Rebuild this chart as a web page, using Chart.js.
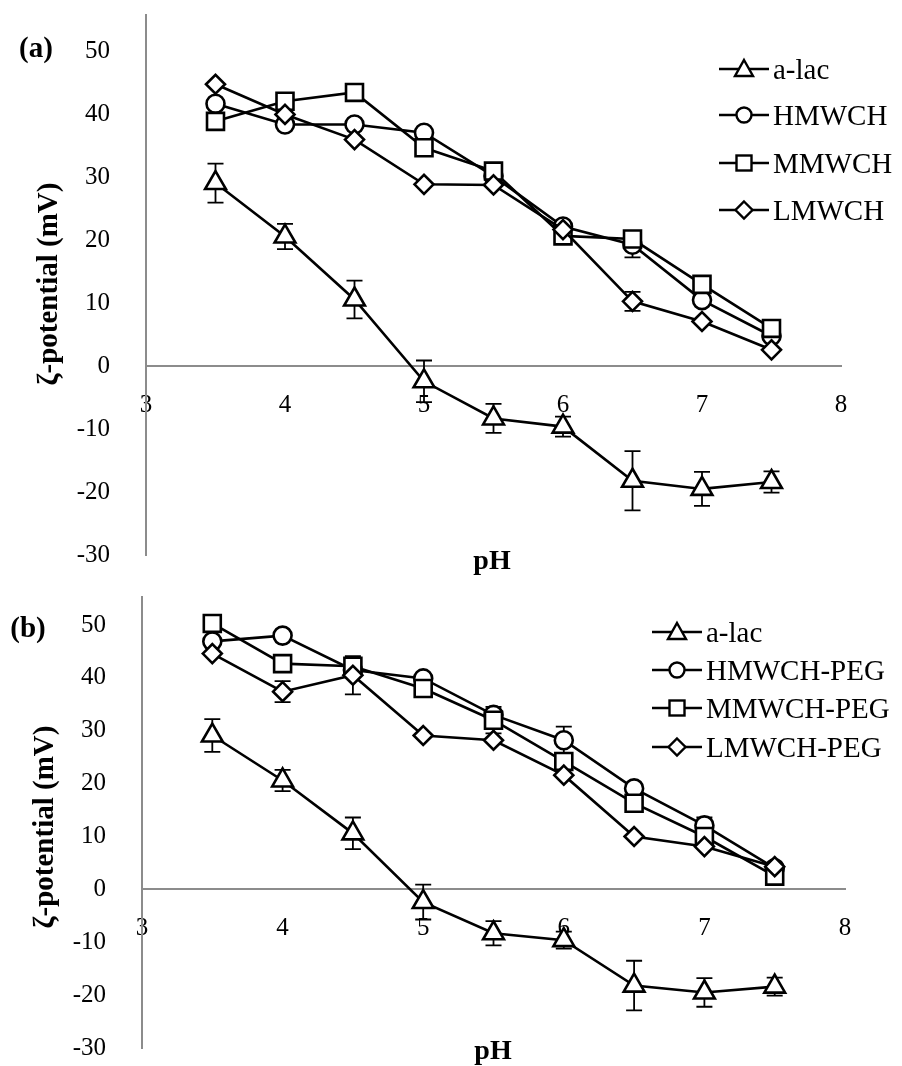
<!DOCTYPE html>
<html><head><meta charset="utf-8">
<script src="https://cdn.jsdelivr.net/npm/chart.js@4.4.0/dist/chart.umd.min.js"></script>
<style>
html,body{margin:0;padding:0;background:#fff;}
body{width:902px;height:1066px;position:relative;overflow:hidden;font-family:"Liberation Serif","Times New Roman",serif;color:#000;}
.wrap{position:absolute;left:0;}
.lbl{position:absolute;font-weight:bold;font-size:29px;white-space:nowrap;transform:translate(-50%,-50%);line-height:1;}
.ytitle{transform:translate(-50%,-50%) rotate(-90deg);}
.leg{position:absolute;height:30px;font-size:29px;white-space:nowrap;line-height:1;display:flex;align-items:center;}
.leg svg{margin-right:4px;flex:none;}
</style></head><body>
<div class="wrap" style="top:0;width:902px;height:580px"><canvas id="chartA" width="902" height="580"></canvas></div>
<div class="wrap" style="top:570px;width:902px;height:496px"><canvas id="chartB" width="902" height="496"></canvas></div>

<div class="lbl" style="left:36px;top:47px">(a)</div>
<div class="lbl" style="left:28px;top:627px">(b)</div>
<div class="lbl ytitle" style="left:47px;top:284px">ζ-potential (mV)</div>
<div class="lbl ytitle" style="left:43px;top:827px">ζ-potential (mV)</div>
<div class="lbl" style="left:492px;top:560px;font-size:28px">pH</div>
<div class="lbl" style="left:493px;top:1050px;font-size:28px">pH</div>
<div id="legA"></div>
<div id="legB"></div>

<script>
// ---- data ----
const pH = [3.5, 4, 4.5, 5, 5.5, 6, 6.5, 7, 7.5];
const xTicks = [3, 4, 5, 6, 7, 8];
const yTicks = [-30, -20, -10, 0, 10, 20, 30, 40, 50];

const aLac    = [29.1, 20.6, 10.6, -2.4, -8.3, -9.6, -18.2, -19.5, -18.4];
const aLacErr = [3.1, 2.0, 3.0, 3.3, 2.3, 1.6, 4.7, 2.7, 1.7];

const hmwch    = [41.7, 38.4, 38.4, 37.1, 30.2, 22.2, 19.3, 10.5, 4.8];
const hmwchErr = [0, 0, 0, 0, 0, 0, 2.0, 0, 0];
const mmwch    = [38.9, 42.1, 43.5, 34.7, 31.0, 20.7, 20.2, 13.0, 6.0];
const mmwchErr = [0, 0, 0, 0, 0, 0, 0, 0, 0];
const lmwch    = [44.8, 40.0, 36.0, 28.9, 28.8, 21.7, 10.3, 7.1, 2.6];
const lmwchErr = [0, 0, 0, 0, 0, 0, 1.5, 0, 0];

const hmwchPeg    = [46.9, 48.0, 41.5, 39.9, 33.0, 28.2, 19.1, 12.1, 4.0];
const hmwchPegErr = [0, 0, 0, 0, 0, 2.6, 0, 1.5, 0];
const mmwchPeg    = [50.3, 42.7, 42.2, 38.0, 32.0, 24.2, 16.3, 10.0, 2.5];
const mmwchPegErr = [0, 0, 0, 0, 2.5, 0, 0, 0, 0];
const lmwchPeg    = [44.6, 37.4, 40.5, 29.1, 28.2, 21.6, 10.0, 8.1, 4.3];
const lmwchPegErr = [0, 2.0, 3.6, 0, 0, 0, 0, 0, 0];

const labelsA = ['a-lac', 'HMWCH', 'MMWCH', 'LMWCH'];
const labelsB = ['a-lac', 'HMWCH-PEG', 'MMWCH-PEG', 'LMWCH-PEG'];
const markers = ['triangle', 'circle', 'rect', 'rectRot'];
const radii = [12, 9, 12, 9.5];

// ---- helpers ----
function pts(vals) { return vals.map((v, i) => ({x: pH[i], y: v})); }

const errorBarPlugin = {
  id: 'errorBars',
  beforeDatasetsDraw(chart) {
    const ctx = chart.ctx, ys = chart.scales.y, xs = chart.scales.x;
    ctx.save();
    ctx.strokeStyle = '#000';
    ctx.lineWidth = 1.8;
    chart.data.datasets.forEach(ds => {
      const errs = ds.errorBars || [];
      ds.data.forEach((p, i) => {
        const e = errs[i];
        if (!e) return;
        const x = xs.getPixelForValue(p.x);
        const y1 = ys.getPixelForValue(p.y + e);
        const y2 = ys.getPixelForValue(p.y - e);
        ctx.beginPath();
        ctx.moveTo(x, y1); ctx.lineTo(x, y2);
        ctx.moveTo(x - 8, y1); ctx.lineTo(x + 8, y1);
        ctx.moveTo(x - 8, y2); ctx.lineTo(x + 8, y2);
        ctx.stroke();
      });
    });
    ctx.restore();
  }
};

function makeDatasets(labels, series, errs) {
  return series.map((vals, k) => ({
    label: labels[k],
    data: pts(vals),
    errorBars: errs[k],
    borderColor: '#000',
    borderWidth: 2.6,
    backgroundColor: '#fff',
    pointStyle: markers[k],
    pointRadius: radii[k],
    pointBorderWidth: 2.6,
    pointBackgroundColor: '#fff',
    pointBorderColor: '#000',
    tension: 0,
    order: k === 0 ? 4 : 4 - k
  }));
}

function makeChart(id, datasets, yMax, yWidth, pad) {
  const tickFont = {family: 'Liberation Serif', size: 25};
  return new Chart(document.getElementById(id), {
    type: 'line',
    data: {datasets},
    plugins: [errorBarPlugin],
    options: {
      responsive: false,
      animation: false,
      layout: {padding: pad},
      plugins: {legend: {display: false}, tooltip: {enabled: false}},
      scales: {
        x: {
          type: 'linear', min: 3, max: 8, position: {y: 0},
          afterBuildTicks: s => { s.ticks = xTicks.map(v => ({value: v})); },
          afterFit: s => { s.height = 0; s.paddingLeft = 0; s.paddingRight = 0; },
          grid: {drawOnChartArea: false, drawTicks: false},
          border: {color: '#8c8c8c', width: 2},
          ticks: {padding: 24, color: '#000', font: tickFont, maxRotation: 0, autoSkip: false}
        },
        y: {
          type: 'linear', min: -30, max: yMax,
          afterBuildTicks: s => { s.ticks = yTicks.map(v => ({value: v})); },
          afterFit: s => { s.width = yWidth; s.paddingTop = 0; s.paddingBottom = 0; },
          grid: {drawOnChartArea: false, drawTicks: false},
          border: {color: '#8c8c8c', width: 2},
          ticks: {padding: 36, color: '#000', font: tickFont, autoSkip: false}
        }
      }
    }
  });
}

makeChart('chartA',
  makeDatasets(labelsA, [aLac, hmwch, mmwch, lmwch], [aLacErr, hmwchErr, mmwchErr, lmwchErr]),
  55.8, 146, {left: 0, top: 15, right: 61, bottom: 25});
makeChart('chartB',
  makeDatasets(labelsB, [aLac, hmwchPeg, mmwchPeg, lmwchPeg], [aLacErr, hmwchPegErr, mmwchPegErr, lmwchPegErr]),
  55.3, 142, {left: 0, top: 27, right: 57, bottom: 18});

// ---- legends ----
function markerSvg(kind) {
  const c = 25, m = 12;
  let shape = '';
  if (kind === 'triangle') shape = `<polygon points="${c},${m-9} ${c+9},${m+7} ${c-9},${m+7}" />`;
  else if (kind === 'circle') shape = `<circle cx="${c}" cy="${m}" r="7.5" />`;
  else if (kind === 'rect') shape = `<rect x="${c-7.5}" y="${m-7.5}" width="15" height="15" />`;
  else shape = `<polygon points="${c},${m-8.5} ${c+8.5},${m} ${c},${m+8.5} ${c-8.5},${m}" />`;
  return `<svg width="50" height="24" viewBox="0 0 50 24"><line x1="0" y1="${m}" x2="50" y2="${m}" stroke="#000" stroke-width="2.6"/>` +
    `<g fill="#fff" stroke="#000" stroke-width="2.4">${shape}</g></svg>`;
}
function buildLegend(elId, labels, left, rows) {
  const el = document.getElementById(elId);
  labels.forEach((t, k) => {
    const d = document.createElement('div');
    d.className = 'leg';
    d.style.left = left + 'px';
    d.style.top = (rows[k] - 15) + 'px';
    d.innerHTML = markerSvg(markers[k]) + '<span>' + t + '</span>';
    el.appendChild(d);
  });
}
buildLegend('legA', labelsA, 719, [69, 115, 163, 210]);
buildLegend('legB', labelsB, 652, [632, 670, 708, 747]);
</script>
</body></html>
